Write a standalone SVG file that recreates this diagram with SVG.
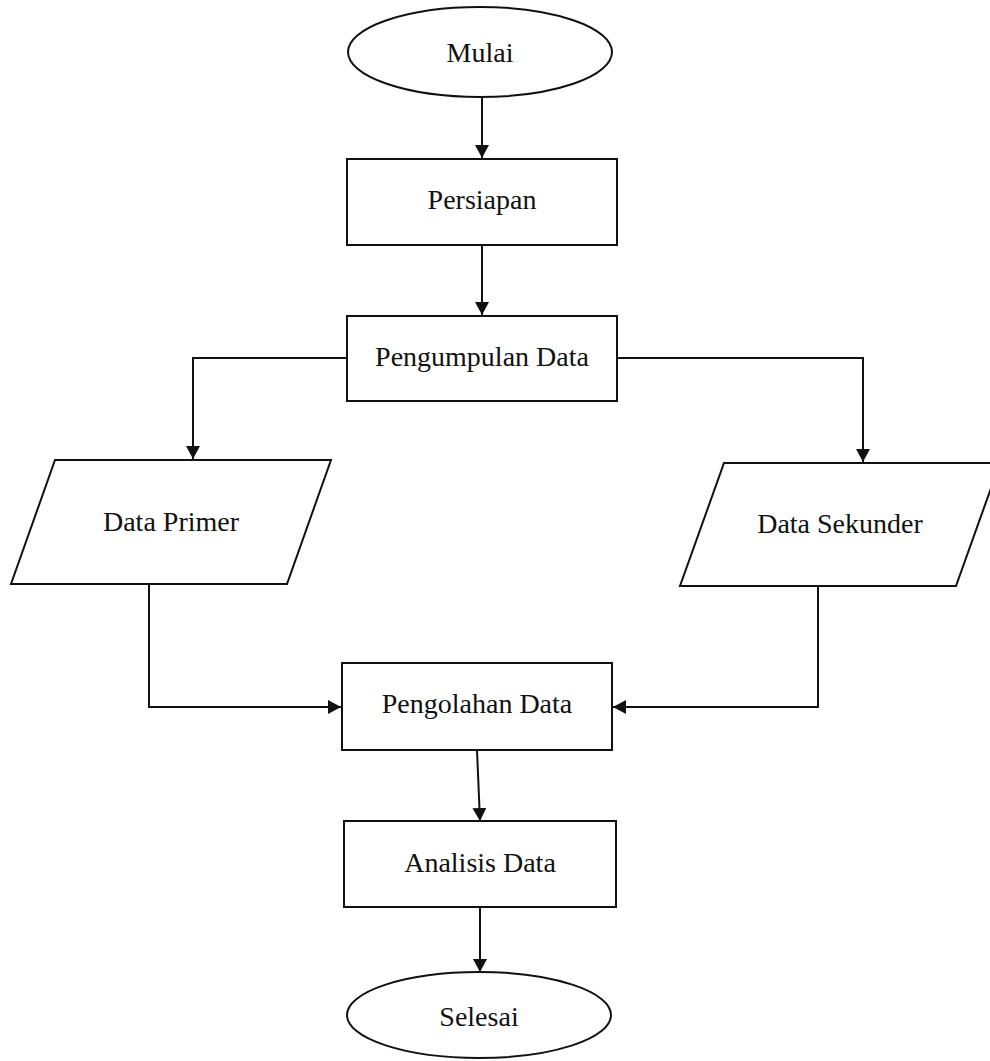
<svg xmlns="http://www.w3.org/2000/svg" width="990" height="1061" viewBox="0 0 990 1061">
<defs>
<style>
.s{fill:#fff;stroke:#111;stroke-width:2}
.c{fill:none;stroke:#111;stroke-width:2}
.t{font-family:"Liberation Serif","Times New Roman",serif;font-size:28px;fill:#111;text-anchor:middle}
</style>
<marker id="ah" markerWidth="14" markerHeight="14" refX="13" refY="7" orient="auto" markerUnits="userSpaceOnUse">
<path d="M0,0 L13,7 L0,14 Z" fill="#111"/>
</marker>
</defs>
<rect width="990" height="1061" fill="#fff"/>
<g id="connectors">
<path class="c" d="M482,97 L482,158" marker-end="url(#ah)"/>
<path class="c" d="M482,245 L482,315" marker-end="url(#ah)"/>
<path class="c" d="M347,358 L193,358 L193,459" marker-end="url(#ah)"/>
<path class="c" d="M617,358 L863,358 L863,462" marker-end="url(#ah)"/>
<path class="c" d="M149,584 L149,707 L341,707" marker-end="url(#ah)"/>
<path class="c" d="M818,586 L818,707 L613,707" marker-end="url(#ah)"/>
<path class="c" d="M477,750 L480,821" marker-end="url(#ah)"/>
<path class="c" d="M480,907 L480,972" marker-end="url(#ah)"/>
</g>
<g id="mulai">
<ellipse class="s" cx="480" cy="52" rx="132" ry="45"/>
<text class="t" x="480" y="62">Mulai</text>
</g>
<g id="persiapan">
<rect class="s" x="347" y="159" width="270" height="86"/>
<text class="t" x="482" y="209">Persiapan</text>
</g>
<g id="pengumpulan">
<rect class="s" x="347" y="316" width="270" height="85"/>
<text class="t" x="482" y="366">Pengumpulan Data</text>
</g>
<g id="primer">
<polygon class="s" points="55,460 331,460 287,584 11,584"/>
<text class="t" x="171" y="531">Data Primer</text>
</g>
<g id="sekunder">
<polygon class="s" points="724,463 1000,463 956,586 680,586"/>
<text class="t" x="840" y="533">Data Sekunder</text>
</g>
<g id="pengolahan">
<rect class="s" x="342" y="663" width="270" height="87"/>
<text class="t" x="477" y="713">Pengolahan Data</text>
</g>
<g id="analisis">
<rect class="s" x="344" y="821" width="272" height="86"/>
<text class="t" x="480" y="872">Analisis Data</text>
</g>
<g id="selesai">
<ellipse class="s" cx="479" cy="1015" rx="132" ry="43"/>
<text class="t" x="479" y="1026">Selesai</text>
</g>
</svg>
